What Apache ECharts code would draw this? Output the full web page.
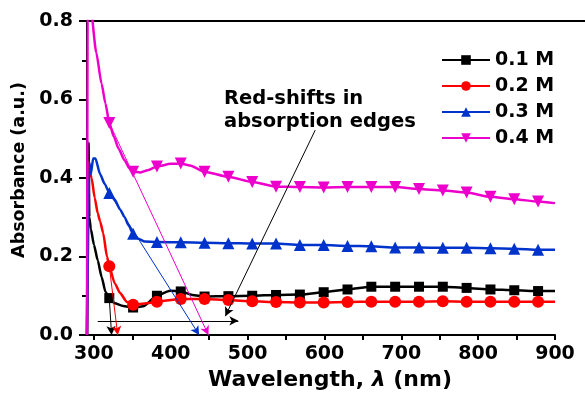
<!DOCTYPE html>
<html>
<head>
<meta charset="utf-8">
<script src="https://cdn.jsdelivr.net/npm/echarts@6/dist/echarts.min.js"></script>
<style>
  html, body { margin: 0; padding: 0; background: #fff; }
  #main { width: 585px; height: 397px; }
</style>
</head>
<body>
<div id="main"></div>
<script>
// wavelengths where a marker is drawn
var markerWl = [320, 351, 382, 413, 444, 475, 506, 537, 568, 599, 630, 661, 692, 723, 754, 785, 816, 847, 878]

var wl01 = [291, 293, 294, 296, 300, 305, 310, 315, 320, 327, 338, 351, 364, 382, 399, 413, 428, 444, 475, 506, 537, 568, 599, 630, 661, 692, 723, 754, 785, 816, 847, 878, 900]
var abs01 = [0, 0.49, 0.3, 0.27, 0.23, 0.19, 0.148, 0.11, 0.094, 0.081, 0.074, 0.07, 0.073, 0.1, 0.113, 0.111, 0.102, 0.098, 0.099, 0.1, 0.102, 0.103, 0.109, 0.116, 0.123, 0.123, 0.123, 0.123, 0.12, 0.116, 0.114, 0.112, 0.112]

var wl02 = [291, 292, 294, 297, 301, 305, 308, 312, 317, 320, 327, 334, 343, 351, 369, 382, 413, 444, 475, 506, 537, 568, 599, 630, 661, 692, 723, 754, 785, 816, 847, 878, 900]
var abs02 = [0, 0.44, 0.42, 0.4, 0.35, 0.31, 0.29, 0.26, 0.2, 0.175, 0.132, 0.107, 0.084, 0.077, 0.081, 0.085, 0.092, 0.092, 0.089, 0.086, 0.084, 0.083, 0.083, 0.084, 0.085, 0.085, 0.085, 0.086, 0.085, 0.085, 0.085, 0.085, 0.085]

var wl03 = [291, 294, 296, 299, 302, 308, 314, 320, 327, 334, 340, 345, 351, 358, 366, 382, 413, 444, 475, 506, 537, 568, 599, 630, 661, 692, 723, 754, 785, 816, 847, 878, 900]
var abs03 = [0, 0.44, 0.41, 0.45, 0.45, 0.41, 0.385, 0.362, 0.345, 0.32, 0.3, 0.28, 0.258, 0.245, 0.238, 0.237, 0.236, 0.235, 0.234, 0.233, 0.233, 0.229, 0.229, 0.227, 0.226, 0.223, 0.223, 0.222, 0.222, 0.221, 0.22, 0.217, 0.217]

var wl04 = [291, 292, 296, 303, 310, 315, 320, 326, 332, 340, 346, 351, 360, 370, 382, 400, 413, 425, 444, 475, 506, 537, 568, 599, 630, 661, 692, 723, 754, 785, 816, 847, 878, 900]
var abs04 = [0, 1.0, 0.83, 0.72, 0.64, 0.59, 0.54, 0.505, 0.475, 0.445, 0.425, 0.416, 0.414, 0.42, 0.429, 0.436, 0.437, 0.432, 0.416, 0.403, 0.39, 0.378, 0.377, 0.376, 0.377, 0.377, 0.377, 0.372, 0.368, 0.363, 0.352, 0.346, 0.34, 0.336]

// absorption edge arrows: [start, end] in (nm, a.u.)
var edge01 = [[320, 0.094], [323, 0]]
var edge02 = [[320, 0.175], [331, 0]]
var edge03 = [[320, 0.362], [437, 0]]
var edge04 = [[320, 0.54], [449, 0]]
var noteArrow = [[588, 0.522], [471, 0.048]]
var shiftArrow = [[305, 0.036], [488, 0.036]]

var xLabels = [300, 400, 500, 600, 700, 800, 900]
var xTicks = [300, 350, 400, 450, 500, 550, 600, 650, 700, 750, 800, 850, 900]

var font = 'DejaVu Sans'

function toData (wl, abs) {
  return wl.map(function (x, i) {
    if (markerWl.indexOf(x) >= 0) return [x, abs[i]]
    return { value: [x, abs[i]], symbol: 'none' }
  })
}

function arrow (pair) {
  return [{ coord: pair[0] }, { coord: pair[1] }]
}

function makeSeries (name, color, wl, abs, symbol, size, rotate, arrows) {
  return {
    name: name,
    type: 'line',
    smooth: 0.2,
    smoothMonotone: 'x',
    data: toData(wl, abs),
    symbol: symbol,
    symbolSize: size,
    symbolRotate: rotate,
    showAllSymbol: true,
    color: color,
    lineStyle: { width: 2.5, color: color },
    itemStyle: { color: color },
    emphasis: { disabled: true },
    markLine: {
      silent: true,
      symbol: ['none', 'arrow'],
      symbolSize: [7, 9],
      label: { show: false },
      lineStyle: { color: color, width: 1, type: 'solid' },
      data: arrows.map(arrow)
    }
  }
}

var chart = echarts.init(document.getElementById('main'))
var option = {
  animation: false,
  backgroundColor: '#fff',
  grid: { left: 87, right: 30, top: 21, bottom: 62 },
  legend: {
    orient: 'vertical',
    left: 441,
    top: 50,
    padding: 0,
    itemWidth: 48,
    itemHeight: 12,
    itemGap: 6,
    textStyle: { fontFamily: font, fontWeight: 'bold', fontSize: 19, color: '#000', lineHeight: 20 },
    data: ['0.1 M', '0.2 M', '0.3 M', '0.4 M']
  },
  xAxis: {
    type: 'value',
    min: 291,
    max: 900,
    name: 'Wavelength, {i|λ} (nm)',
    nameLocation: 'middle',
    nameGap: 30,
    nameTextStyle: {
      fontFamily: font, fontWeight: 'bold', fontSize: 22, color: '#000',
      padding: [0, 0, 0, 18],
      rich: { i: { fontFamily: font, fontWeight: 'bold', fontStyle: 'italic', fontSize: 22, color: '#000' } }
    },
    axisLine: { lineStyle: { color: '#000', width: 2 } },
    axisTick: { customValues: xTicks, length: 5, lineStyle: { color: '#000', width: 2 } },
    axisLabel: { customValues: xLabels, margin: 10, fontFamily: font, fontWeight: 'bold', fontSize: 19, color: '#000' },
    splitLine: { show: false }
  },
  yAxis: {
    type: 'value',
    min: 0,
    max: 0.8,
    interval: 0.2,
    name: 'Absorbance (a.u.)',
    nameLocation: 'middle',
    nameGap: 52,
    nameTextStyle: { fontFamily: font, fontWeight: 'bold', fontSize: 17.5, color: '#000', padding: [0, 0, 0, 16] },
    axisLine: { lineStyle: { color: '#000', width: 2 } },
    axisTick: { length: 8, lineStyle: { color: '#000', width: 2 } },
    minorTick: { show: true, splitNumber: 2, length: 5, lineStyle: { color: '#000', width: 2 } },
    axisLabel: {
      margin: 14, fontFamily: font, fontWeight: 'bold', fontSize: 19, color: '#000',
      formatter: function (v) { return v.toFixed(1) }
    },
    splitLine: { show: false }
  },
  graphic: [
    {
      type: 'line',
      silent: true,
      shape: { x1: 87, y1: 21, x2: 585, y2: 21 },
      style: { stroke: '#000', lineWidth: 2 }
    },
    {
      type: 'text',
      silent: true,
      left: 224,
      top: 87,
      style: {
        text: 'Red-shifts in\nabsorption edges',
        font: 'bold 19.5px "DejaVu Sans"',
        lineHeight: 23,
        fill: '#000'
      }
    }
  ],
  series: [
    makeSeries('0.1 M', '#000000', wl01, abs01, 'rect', 10, 0, [edge01, noteArrow, shiftArrow]),
    makeSeries('0.2 M', '#ff0000', wl02, abs02, 'circle', 12, 0, [edge02]),
    makeSeries('0.3 M', '#0033cc', wl03, abs03, 'triangle', 12, 0, [edge03]),
    makeSeries('0.4 M', '#ee00cc', wl04, abs04, 'triangle', 12, 180, [edge04])
  ]
}
chart.setOption(option)
</script>
</body>
</html>
